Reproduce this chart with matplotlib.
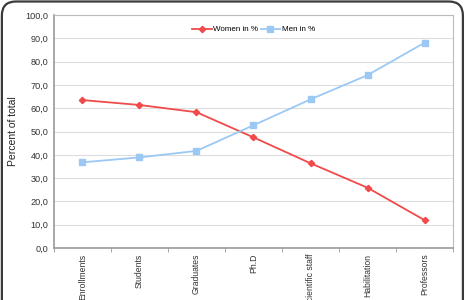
import numpy as np
import matplotlib.pyplot as plt
from matplotlib.patches import FancyBboxPatch
from matplotlib.ticker import FuncFormatter

plt.rcParams['font.family'] = ['Liberation Sans', 'DejaVu Sans']

# data
categories = ['Enrollments', 'Students', 'Graduates', 'Ph.D', 'Scientific staff',
              'Habilitation', 'Professors']
women = [63.5, 61.4, 58.3, 47.5, 36.4, 25.9, 12.0]
men = [36.8, 38.9, 41.7, 52.7, 63.8, 74.2, 88.1]

fig = plt.figure(figsize=(4.69, 3.0), dpi=100)

# rounded outer frame (its bottom runs past the picture edge, as in the reference)
frame = FancyBboxPatch((0.004, -0.1), 0.983, 1.095, boxstyle='round,pad=0,rounding_size=0.03',
                       transform=fig.transFigure, facecolor='none', edgecolor='#3a3a3a',
                       linewidth=1.6, mutation_aspect=469/300, zorder=10)
fig.patches.append(frame)

ax = fig.add_axes([0.115, 0.173, 0.851, 0.777])
x = np.arange(len(categories))

ax.plot(x, women, color='#f04a4a', lw=1.3, marker='D', ms=3.2, label='Women in %')
ax.plot(x, men, color='#9cc8f4', lw=1.3, marker='s', ms=4.2, label='Men in %')

ax.set_xlim(-0.5, len(categories) - 0.5)
ax.set_ylim(0, 100)
ax.set_yticks(np.arange(0, 101, 10))
ax.yaxis.set_major_formatter(FuncFormatter(lambda v, p: f'{v:.1f}'.replace('.', ',')))
ax.grid(axis='y', color='#dddddd', lw=0.8)
ax.set_axisbelow(True)

ax.set_xticks(x)
ax.set_xticklabels(categories, rotation=90, fontsize=6.2, color='#333333')
ax.tick_params(axis='x', length=0, pad=4)
ax.set_xticks(np.arange(-0.5, len(categories), 1), minor=True)
ax.tick_params(axis='x', which='minor', length=3, color='#999999')
ax.tick_params(axis='y', length=0, labelsize=6.6, labelcolor='#333333', pad=4)

for s in ['top', 'right']:
    ax.spines[s].set_color('#bbbbbb')
    ax.spines[s].set_linewidth(0.8)
for s in ['left', 'bottom']:
    ax.spines[s].set_color('#999999')
    ax.spines[s].set_linewidth(1.2)

ax.set_ylabel('Percent of total', fontsize=7.5, color='#222222', labelpad=5)

ax.legend(loc='upper center', bbox_to_anchor=(0.5, 0.985), ncol=2, frameon=False,
          fontsize=5.8, handlelength=2.4, columnspacing=0.3, handletextpad=0.2)

fig.savefig('out.png', dpi=100)
